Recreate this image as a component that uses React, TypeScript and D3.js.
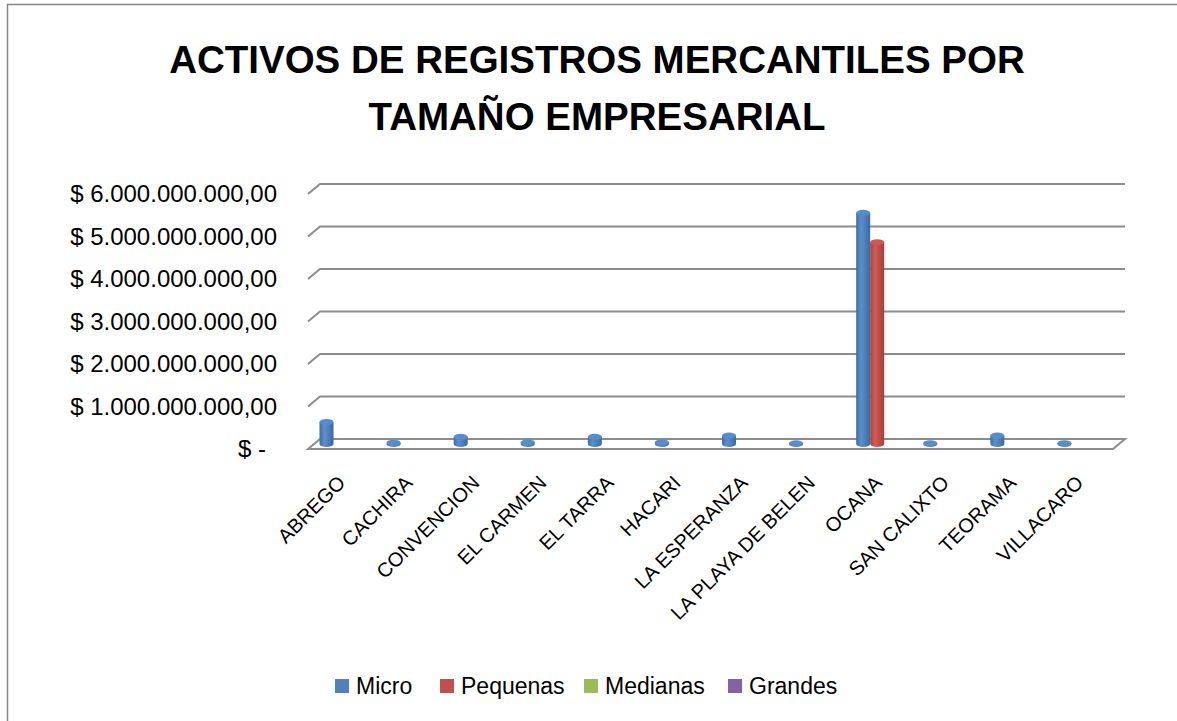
import React, { useEffect, useRef } from 'react';
import * as d3 from 'd3';

const categories = [
  'ABREGO', 'CACHIRA', 'CONVENCION', 'EL CARMEN', 'EL TARRA', 'HACARI',
  'LA ESPERANZA', 'LA PLAYA DE BELEN', 'OCANA', 'SAN CALIXTO', 'TEORAMA', 'VILLACARO',
];
const seriesNames = ['Micro', 'Pequenas', 'Medianas', 'Grandes'];
const seriesColors = ['#4F81BD', '#C0504D', '#9BBB59', '#8064A2'];

const micro = [520e6, 30e6, 170e6, 40e6, 170e6, 40e6, 200e6, 15e6, 5440e6, 20e6, 200e6, 20e6];
const pequenas = [0, 0, 0, 0, 0, 0, 0, 0, 4750e6, 0, 0, 0];
const medianas = [0, 0, 0, 0, 0, 0, 0, 0, 0, 0, 0, 0];
const grandes = [0, 0, 0, 0, 0, 0, 0, 0, 0, 0, 0, 0];

const yTicks = [0, 1e9, 2e9, 3e9, 4e9, 5e9, 6e9];
const titleLines = ['ACTIVOS DE REGISTROS MERCANTILES POR', 'TAMAÑO EMPRESARIAL'];

const FONT = '"Liberation Sans", Arial, sans-serif';

const fmtTick = (v: number) => {
  if (v === 0) return '$ -';
  const s = d3.format(',.2f')(v).replace(/,/g, 'X').replace('.', ',').replace(/X/g, '.');
  return `$ ${s}`;
};

const App: React.FC = () => {
  const svgRef = useRef<SVGSVGElement>(null);

  useEffect(() => {
    if (!svgRef.current) return;
    const svg = d3.select(svgRef.current);
    svg.selectAll('*').remove();

    const W = 1177;
    const H = 721;
    // 3D depth offset
    const dx = 12;
    const dy = -10;

    const xScale = d3.scaleBand<string>().domain(categories).range([308, 1113]);
    const inner = d3
      .scaleBand<string>()
      .domain(seriesNames)
      .range([5.5, xScale.bandwidth() - 5.5]);
    const yScale = d3.scaleLinear().domain([0, 6e9]).range([449, 194]);

    svg.append('rect').attr('width', W).attr('height', H).attr('fill', '#fff');
    svg
      .append('rect')
      .attr('x', 7.5)
      .attr('y', 4.5)
      .attr('width', W + 20)
      .attr('height', H + 20)
      .attr('fill', 'none')
      .attr('stroke', '#868686')
      .attr('stroke-width', 1.5);

    // gradients for cylinders
    const defs = svg.append('defs');
    seriesColors.forEach((c, i) => {
      const base = d3.color(c)!;
      const g = defs
        .append('linearGradient')
        .attr('id', `cyl${i}`)
        .attr('x1', 0)
        .attr('x2', 1)
        .attr('y1', 0)
        .attr('y2', 0);
      g.append('stop').attr('offset', '0%').attr('stop-color', base.darker(0.5).toString());
      g.append('stop').attr('offset', '35%').attr('stop-color', base.brighter(0.3).toString());
      g.append('stop').attr('offset', '100%').attr('stop-color', base.darker(0.6).toString());
    });

    // Title
    svg
      .append('g')
      .selectAll('text')
      .data(titleLines)
      .join('text')
      .attr('x', 597)
      .attr('y', (_, i) => 73 + i * 57)
      .attr('text-anchor', 'middle')
      .attr('font-family', FONT)
      .attr('font-weight', 'bold')
      .attr('font-size', 38.5)
      .attr('fill', '#000')
      .text((d) => d);

    const grid = svg.append('g');
    const x0 = xScale.range()[0];
    const x1 = xScale.range()[1];

    // floor
    const y0 = yScale(0);
    grid
      .append('path')
      .attr('d', `M${x0},${y0} L${x1},${y0} L${x1 + dx},${y0 + dy} L${x0 + dx},${y0 + dy} Z`)
      .attr('fill', '#fff')
      .attr('stroke', '#8c8c8c')
      .attr('stroke-width', 2);

    // gridlines
    grid
      .selectAll('.gl')
      .data(yTicks.filter((t) => t > 0))
      .join('path')
      .attr('class', 'gl')
      .attr('d', (t) => {
        const y = yScale(t);
        return `M${x0},${y} L${x0 + dx},${y + dy} L${x1 + dx},${y + dy}`;
      })
      .attr('fill', 'none')
      .attr('stroke', '#8c8c8c')
      .attr('stroke-width', 2);

    // Y labels
    svg
      .append('g')
      .selectAll('text')
      .data(yTicks)
      .join('text')
      .attr('x', (t) => (t === 0 ? 266 : 277))
      .attr('y', (t) => yScale(t) + 8)
      .attr('text-anchor', 'end')
      .attr('font-family', FONT)
      .attr('font-size', 24)
      .attr('fill', '#000')
      .text((t) => fmtTick(t));

    // bars (cylinders)
    const seriesData = [micro, pequenas, medianas, grandes];
    const ry = 3;
    const bars = svg.append('g');
    seriesData.forEach((vals, si) => {
      vals.forEach((v, ci) => {
        const bx = (xScale(categories[ci]) || 0) + (inner(seriesNames[si]) || 0) + dx / 2;
        const bw = inner.bandwidth();
        const cx = bx + bw / 2;
        const yb = yScale(0) + dy / 2;
        const yt = yScale(v) + dy / 2;
        if (v <= 0) return;
        const grp = bars.append('g');
        grp
          .append('path')
          .attr(
            'd',
            `M${bx},${yt} L${bx},${yb} A${bw / 2},${ry} 0 0 0 ${bx + bw},${yb} L${bx + bw},${yt} Z`
          )
          .attr('fill', `url(#cyl${si})`);
        grp
          .append('ellipse')
          .attr('cx', cx)
          .attr('cy', yt)
          .attr('rx', bw / 2)
          .attr('ry', ry)
          .attr('fill', d3.color(seriesColors[si])!.brighter(0.25).toString());
      });
    });

    // X labels
    svg
      .append('g')
      .selectAll('text')
      .data(categories)
      .join('text')
      .attr('transform', (d) => {
        const x = (xScale(d) || 0) + xScale.bandwidth() / 2 + 5;
        return `translate(${x},${484}) rotate(-45)`;
      })
      .attr('text-anchor', 'end')
      .attr('font-family', FONT)
      .attr('font-size', 20)
      .attr('fill', '#000')
      .text((d) => d);

    // Legend
    const legendX = [335, 440, 584, 728];
    const legend = svg
      .append('g')
      .selectAll('g')
      .data(seriesNames)
      .join('g')
      .attr('transform', (_, i) => `translate(${legendX[i]},${679})`);
    legend
      .append('rect')
      .attr('width', 14)
      .attr('height', 14)
      .attr('fill', (_, i) => seriesColors[i]);
    legend
      .append('text')
      .attr('x', 21)
      .attr('y', 15)
      .attr('font-family', FONT)
      .attr('font-size', 23)
      .attr('fill', '#000')
      .text((d) => d);
  }, []);

  return (
    <svg
      ref={svgRef}
      width={1177}
      height={721}
      style={{ position: 'absolute', left: 0, top: 0, display: 'block' }}
    />
  );
};

export default App;
